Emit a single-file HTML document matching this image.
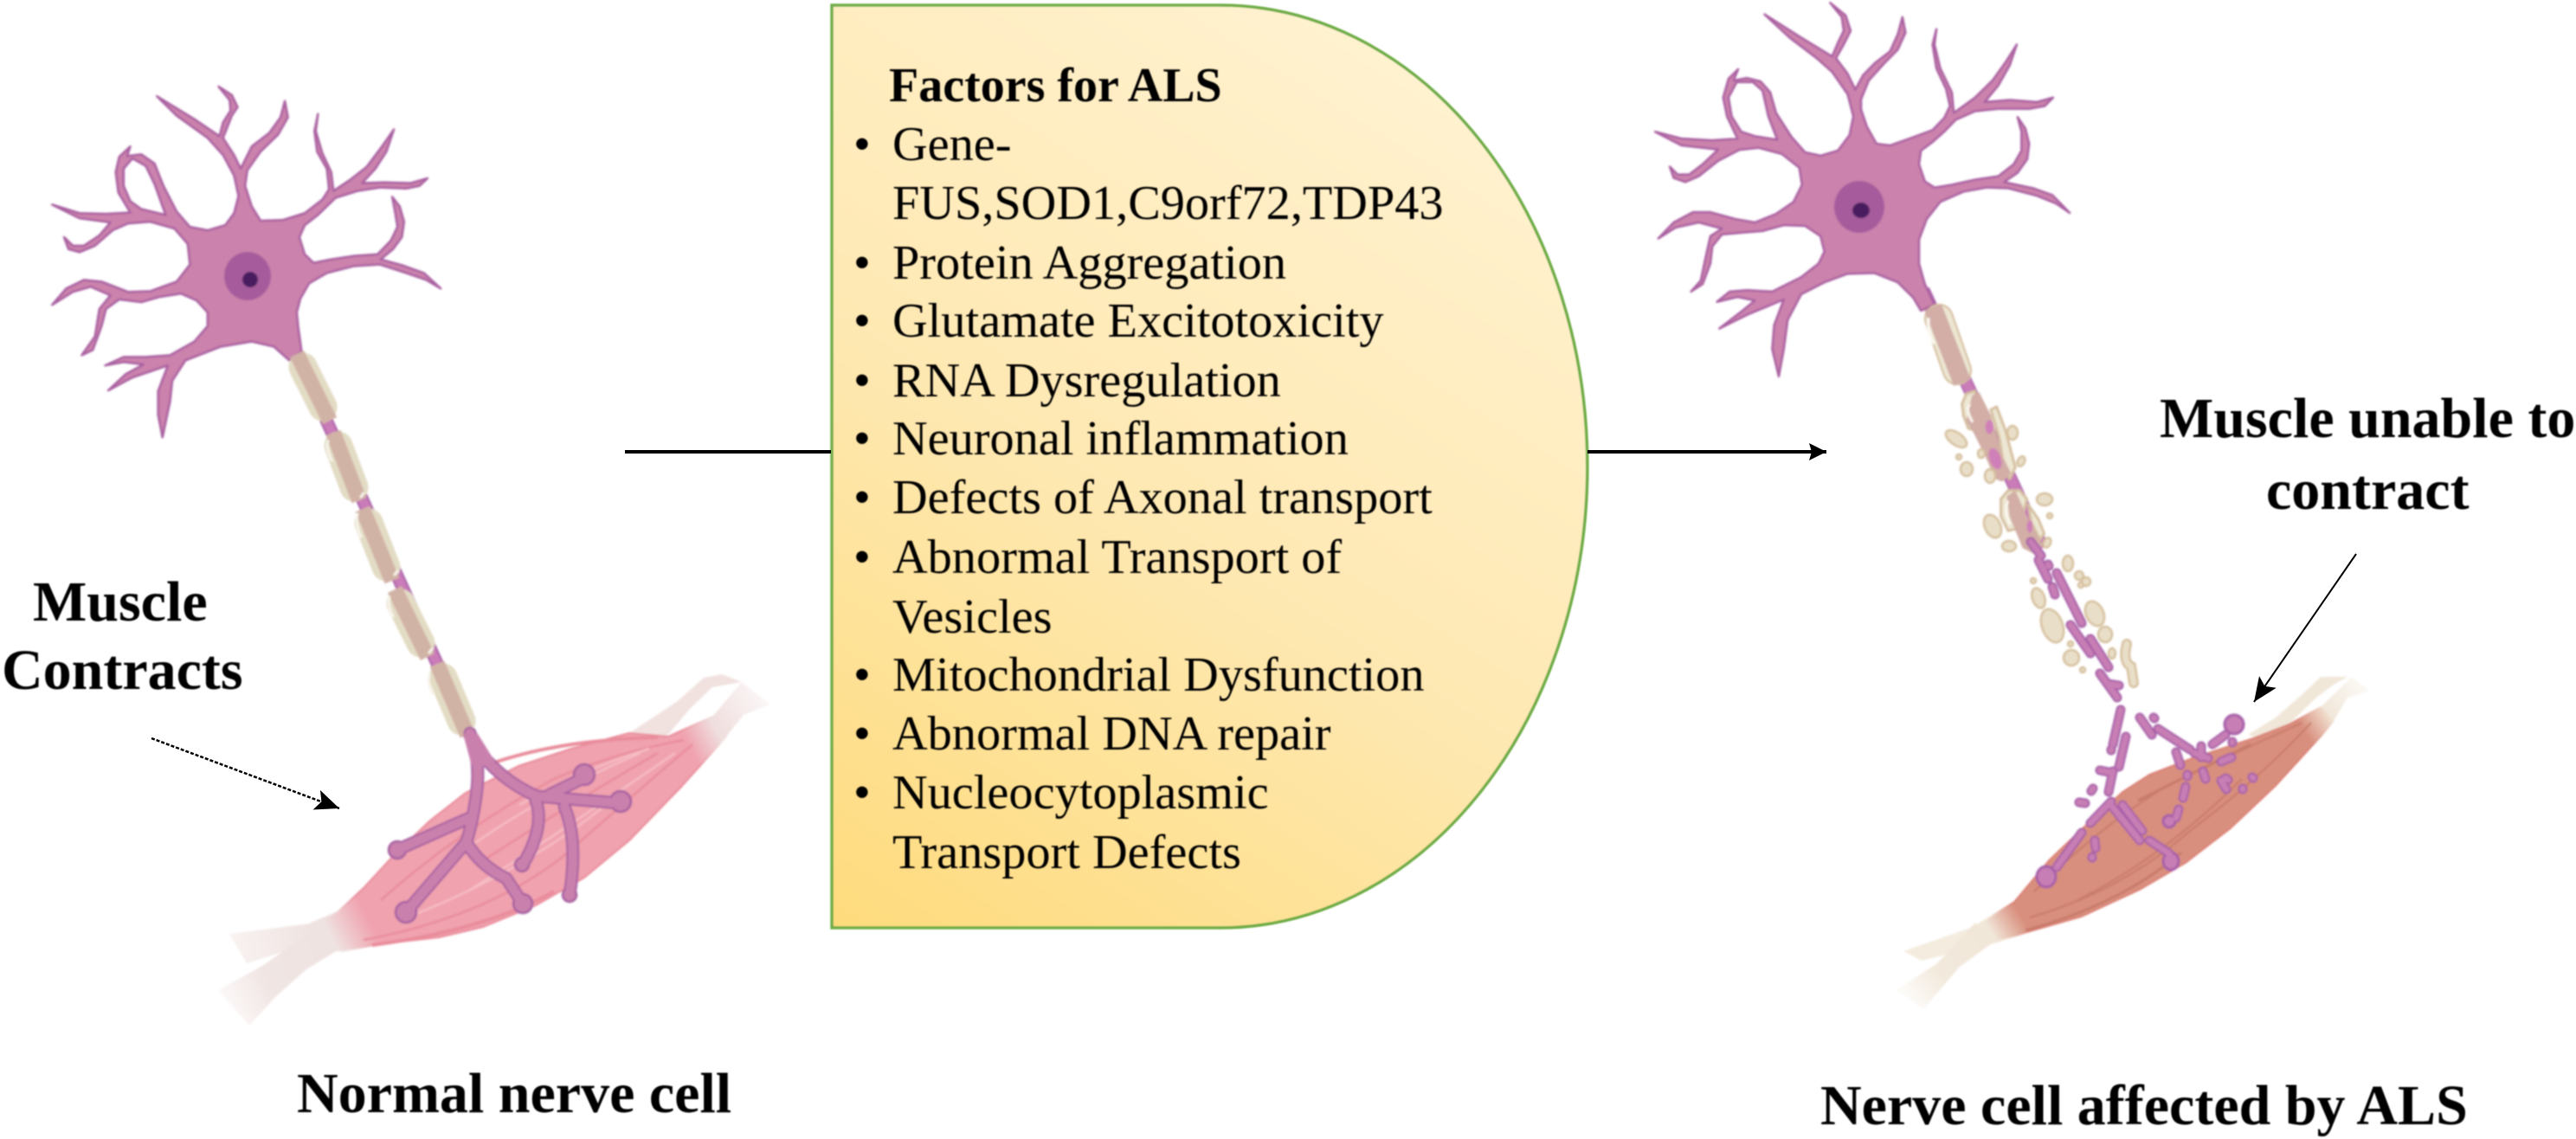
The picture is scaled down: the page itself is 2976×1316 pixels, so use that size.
<!DOCTYPE html>
<html><head><meta charset="utf-8"><style>
html,body{margin:0;padding:0;background:#fff;width:2976px;height:1316px;overflow:hidden}
svg{display:block}
text{font-family:"Liberation Serif",serif;fill:#000}
.b{font-weight:bold;font-size:66px}
.t{font-size:56.3px}
</style></head><body>
<svg width="2976" height="1316" viewBox="0 0 2976 1316" xmlns="http://www.w3.org/2000/svg">
<defs>
<filter id="soft" filterUnits="userSpaceOnUse" x="0" y="0" width="2976" height="1316"><feGaussianBlur stdDeviation="1.1"/></filter>
<filter id="softT" filterUnits="userSpaceOnUse" x="0" y="0" width="2976" height="1316"><feGaussianBlur stdDeviation="0.7"/></filter>
<linearGradient id="box" gradientUnits="userSpaceOnUse" x1="961" y1="1072" x2="1600" y2="60"><stop offset="0" stop-color="#fedb7c"/><stop offset=".5" stop-color="#fee8b2"/><stop offset="1" stop-color="#fff2cf"/></linearGradient>
<linearGradient id="mL" gradientUnits="userSpaceOnUse" x1="359" y1="1085" x2="839" y2="840"><stop offset="0" stop-color="#efe3e1"/><stop offset=".04" stop-color="#efe3e1"/><stop offset=".13" stop-color="#f0a2af"/><stop offset=".91" stop-color="#f0a2af"/><stop offset=".98" stop-color="#efe0df"/></linearGradient>
<linearGradient id="mLs" gradientUnits="userSpaceOnUse" x1="359" y1="1085" x2="839" y2="840"><stop offset="0" stop-color="#efe3e1"/><stop offset=".06" stop-color="#efe3e1"/><stop offset=".13" stop-color="#e98a99"/><stop offset=".91" stop-color="#e98a99"/><stop offset=".98" stop-color="#efe0df"/></linearGradient>
<linearGradient id="mR" gradientUnits="userSpaceOnUse" x1="2282" y1="1085" x2="2696" y2="825"><stop offset="0" stop-color="#f1e7d9"/><stop offset=".04" stop-color="#f1e7d9"/><stop offset=".12" stop-color="#d98f7e"/><stop offset=".92" stop-color="#d98f7e"/><stop offset=".99" stop-color="#f1e2d2"/></linearGradient>
<linearGradient id="mRs" gradientUnits="userSpaceOnUse" x1="2282" y1="1085" x2="2696" y2="825"><stop offset="0" stop-color="#f1e7d9"/><stop offset=".06" stop-color="#f1e7d9"/><stop offset=".12" stop-color="#d9766b"/><stop offset=".92" stop-color="#d9766b"/><stop offset=".99" stop-color="#f1e2d2"/></linearGradient>
<linearGradient id="tLa" gradientUnits="userSpaceOnUse" x1="380" y1="1110" x2="260" y2="1170"><stop offset="0" stop-color="#efe3e1"/><stop offset=".55" stop-color="#f0e5e3"/><stop offset="1" stop-color="#fdfafa"/></linearGradient>
<linearGradient id="tLb" gradientUnits="userSpaceOnUse" x1="360" y1="1085" x2="265" y2="1095"><stop offset="0" stop-color="#efe3e1"/><stop offset="1" stop-color="#f9f3f2"/></linearGradient>
<linearGradient id="tLc" gradientUnits="userSpaceOnUse" x1="830" y1="840" x2="890" y2="805"><stop offset="0" stop-color="#f1dfdf"/><stop offset="1" stop-color="#fcf9f9"/></linearGradient>
<linearGradient id="tRa" gradientUnits="userSpaceOnUse" x1="2290" y1="1090" x2="2205" y2="1155"><stop offset="0" stop-color="#f1e7d9"/><stop offset=".55" stop-color="#f2e9dc"/><stop offset="1" stop-color="#fdfbf8"/></linearGradient>
<linearGradient id="tRb" gradientUnits="userSpaceOnUse" x1="2690" y1="825" x2="2738" y2="790"><stop offset="0" stop-color="#f1e7d9"/><stop offset="1" stop-color="#fdfbf8"/></linearGradient>
<marker id="ah" markerUnits="userSpaceOnUse" markerWidth="22" markerHeight="24" refX="20" refY="12" orient="auto"><path d="M0,2 L20,12 L0,22 L3,12 Z" fill="#000"/></marker>
<marker id="ah2" markerUnits="userSpaceOnUse" markerWidth="30" markerHeight="26" refX="28" refY="13" orient="auto"><path d="M0,1 L28,13 L0,25 L6,13 Z" fill="#000"/></marker>
</defs>

<g filter="url(#soft)">
<!-- LEFT MUSCLE -->
<polygon fill="#f1e2e0" points="727,847 783,810 813,783 834,779 857,788 823,794 798,818 770,851"/>
<polygon fill="url(#tLc)" points="823,828 857,788 890,814 859,826 839,851"/>
<polygon fill="url(#tLb)" points="359,1067 265,1079 285,1113 323,1101 395,1099"/>
<polygon fill="url(#tLa)" points="395,1095 354,1120 318,1152 288,1185 252,1144 303,1116 354,1080"/>
<polygon fill="url(#mL)" stroke="url(#mLs)" stroke-width="2" stroke-linejoin="round" points="395,1099 436,1091 507,1083 558,1071 619,1046 675,1014 727,971 788,908 839,851 823,828 772,851 727,847 660,865 599,885 538,916 497,948 456,987 420,1026 390,1054 359,1067"/>
<g fill="none" stroke="#e98c9b" stroke-width="2.5">
<path d="M420,1086 Q560,1060 650,990 Q730,920 800,860"/>
<path d="M440,1040 Q530,960 640,900 Q710,870 790,855"/>
<path d="M560,885 Q640,855 760,852" stroke-width="4"/>
<path d="M430,1092 Q560,1075 640,1030" stroke-width="4"/>
<path d="M550,1000 Q640,940 760,870"/>
</g>
<g fill="none" stroke="#f6bcc4" stroke-width="2.5">
<path d="M500,1010 Q600,930 740,870"/>
<path d="M540,1030 Q650,960 780,870"/>
<path d="M470,1060 Q600,1010 700,930"/>
<path d="M600,930 Q670,890 750,865"/>
</g>

<!-- LEFT NEURON -->
<path d="M338,400 L543,850" stroke="#a85fa8" stroke-width="15" fill="none"/>
<path d="M338,400 L543,850" stroke="#c97cb8" stroke-width="11" fill="none"/>
<g stroke="#e3dcc4" stroke-width="33" stroke-linecap="round" fill="none">
<path d="M350,424 L373,470"/><path d="M391,515 L409,563"/><path d="M426,604 L446,655"/><path d="M463,697 L486,743"/><path d="M512,783 L533,833"/>
</g>
<g stroke="#d1b3a5" stroke-width="18" stroke-linecap="butt" fill="none">
<path d="M343,409 L381,486"/><path d="M385,500 L415,578"/><path d="M419,588 L453,671"/><path d="M456,681 L494,759"/><path d="M505,767 L540,849"/>
</g>
<g stroke="#f8f5ec" stroke-width="3" stroke-linecap="round" fill="none">
<path d="M338,424 Q335,430 342,444"/><path d="M379,510 Q376,516 383,532"/><path d="M413,594 Q410,604 417,620"/><path d="M450,690 Q447,698 454,712"/><path d="M496,780 Q493,788 500,802"/>
<path d="M383,482 L386,478"/><path d="M417,574 L420,570"/><path d="M456,664 L459,660"/><path d="M496,754 L499,750"/><path d="M543,845 L546,841"/>
</g>
<g fill="#cb82ac" stroke="#a85fa0" stroke-width="2.5" stroke-linejoin="round">
<path fill-rule="evenodd" vector-effect="non-scaling-stroke" transform="translate(0,100) scale(.5102,.3954)" d="M683,775 L675,700 672,660 680,620 700,575 740,545 800,525 860,520 920,545 965,565 998,590 960,545 910,522 862,505 890,475 910,440 915,395 905,350 888,322 895,370 900,410 885,450 855,490 800,495 750,505 710,515 690,490 678,440 690,405 720,375 760,325 810,305 860,295 920,298 950,290 968,268 930,282 870,280 820,282 850,240 875,190 892,125 865,175 830,235 790,275 755,305 750,250 730,195 715,130 720,80 712,130 718,190 740,240 745,300 730,330 690,370 640,390 590,392 570,350 555,290 560,245 590,190 630,140 652,90 645,42 635,90 610,135 570,175 545,240 530,200 505,150 525,85 538,60 525,25 495,0 520,40 522,70 505,105 497,145 440,95 355,28 400,85 470,150 505,200 530,260 540,320 530,370 510,405 470,420 430,410 400,365 370,290 350,225 320,198 288,203 295,175 270,205 262,250 268,310 295,368 240,372 180,370 118,345 180,385 250,397 225,435 190,465 165,465 145,440 155,475 180,484 215,465 255,420 290,400 340,395 395,415 425,460 430,520 400,570 340,598 290,600 230,570 190,565 150,590 118,638 165,600 205,585 250,610 225,650 215,730 185,785 210,770 230,700 240,650 270,622 320,630 360,615 410,605 445,625 470,660 470,700 440,745 385,785 330,790 280,790 238,815 280,805 325,812 285,840 245,888 300,850 380,815 358,890 358,960 368,1025 385,920 390,860 420,800 500,760 570,745 620,760 655,800 Z M300,210 L330,232 350,285 375,375 320,358 295,335 280,290 280,240 Z"/>
</g>
<ellipse cx="286" cy="319" rx="27" ry="28" fill="#a65c9c"/>
<ellipse cx="289" cy="323" rx="9" ry="9" fill="#4a1f5e"/>
<!-- re-cover top of first capsule -->
<path d="M350,424 L373,470" stroke="#e3dcc4" stroke-width="33" stroke-linecap="round" fill="none"/>
<path d="M343,409 L381,486" stroke="#d1b3a5" stroke-width="18" fill="none"/>

<!-- LEFT TERMINAL -->
<defs><g id="termL" fill="none" stroke-linecap="round" stroke-linejoin="round">
<path d="M543,847 Q556,880 550,920 Q545,955 538,975"/>
<path d="M537,975 L469,1054"/>
<path d="M540,975 Q555,1000 585,1015 L604,1044"/>
<path d="M540,946 L461,981"/>
<path d="M546,858 Q575,900 620,920 L716,928"/>
<path d="M635,918 L672,900"/>
<path d="M619,925 Q630,955 604,999"/>
<path d="M652,932 Q668,970 658,1034"/>
</g></defs>
<use href="#termL" stroke="#a65fa0" stroke-width="15"/>
<g fill="#c980ad" stroke="#a65fa0" stroke-width="2.5">
<circle cx="469" cy="1054" r="12"/><circle cx="604" cy="1044" r="11"/><circle cx="459" cy="982" r="10"/><circle cx="675" cy="895" r="12"/><circle cx="717" cy="926" r="12"/><circle cx="603" cy="999" r="8"/><circle cx="658" cy="1034" r="8"/>
</g>
<use href="#termL" stroke="#c980ad" stroke-width="11"/>
<polygon fill="#c980ad" points="535,848 552,848 575,885 545,885"/>

<!-- RIGHT MUSCLE -->
<polygon fill="#f1e7d9" points="2597,849 2629,829 2660,802 2681,782 2712,782 2696,791 2676,806 2644,837 2608,853"/>
<polygon fill="url(#tRb)" points="2681,817 2717,782 2738,798 2712,806 2696,833"/>
<polygon fill="#f4ecdf" points="2282,1070 2199,1099 2220,1110 2301,1090"/>
<polygon fill="url(#tRa)" points="2301,1090 2264,1117 2222,1166 2191,1144 2238,1113 2282,1066"/>
<polygon fill="url(#mR)" stroke="url(#mRs)" stroke-width="1.5" stroke-linejoin="round" points="2301,1090 2342,1077 2405,1059 2472,1028 2525,997 2577,957 2629,908 2681,851 2696,833 2681,817 2644,837 2603,853 2535,875 2483,895 2452,915 2410,953 2368,993 2327,1042 2282,1070"/>
<g fill="none" stroke="#c87a69" stroke-width="2">
<path d="M2345,1060 Q2450,1030 2530,960 Q2610,900 2670,835"/>
<path d="M2350,1030 Q2420,960 2500,910 Q2570,875 2660,835"/>
<path d="M2400,1040 Q2500,990 2590,900"/>
<path d="M2470,925 Q2530,895 2600,860" stroke-width="3"/>
<path d="M2340,1075 Q2450,1045 2520,985" stroke-width="3"/>
</g>

<!-- RIGHT AXON (proximal) -->
<path d="M2222,335 L2360,633" stroke="#a85fa8" stroke-width="15" fill="none"/>
<path d="M2222,335 L2360,633" stroke="#c97cb8" stroke-width="12" fill="none"/>
<path d="M2240,368 L2261,428" stroke="#d6bfa0" stroke-width="34" stroke-linecap="round" fill="none"/>
<path d="M2240,368 L2261,428" stroke="#ece6d2" stroke-width="30" stroke-linecap="round" fill="none"/>
<path d="M2233,355 L2267,442" stroke="#d2aea6" stroke-width="21" fill="none"/>
<path d="M2228,369 Q2226,380 2234,396" stroke="#fbf8f0" stroke-width="3.5" fill="none" stroke-linecap="round"/>
<g transform="translate(2200,340) scale(.3333)" stroke-linejoin="round">
<g fill="#ece6d2" stroke="#d6bfa0" stroke-width="3" vector-effect="non-scaling-stroke">
<polygon vector-effect="non-scaling-stroke" points="200,380 215,345 245,335 255,400 240,470 222,465 205,420"/>
<polygon vector-effect="non-scaling-stroke" points="300,400 320,390 350,470 385,600 365,640 345,600 330,500"/>
<polygon vector-effect="non-scaling-stroke" points="335,710 360,680 400,680 425,710 400,810 360,820 335,770"/>
<polygon vector-effect="non-scaling-stroke" points="430,730 465,780 485,830 470,850 440,790"/>
</g>
<polygon fill="#d2aea6" points="235,350 260,340 300,420 340,560 370,620 340,650 315,640 280,560 240,480 215,440"/>
<polygon fill="#d2aea6" points="355,700 385,680 420,760 480,870 450,900 410,880 365,770"/>
<ellipse cx="295" cy="460" rx="14" ry="24" fill="#cf80b8"/>
<ellipse cx="315" cy="570" rx="20" ry="38" transform="rotate(-20 315 570)" fill="#cf80b8"/>
<ellipse cx="435" cy="805" rx="10" ry="22" fill="#cf80b8"/>
<path d="M225,385 Q212,400 235,440" fill="none" stroke="#fbf8f0" stroke-width="9" stroke-linecap="round"/>
<path d="M358,720 Q345,750 365,795" fill="none" stroke="#fbf8f0" stroke-width="9" stroke-linecap="round"/>
</g>
<!-- RIGHT NEURON -->
<g fill="#cb82ac" stroke="#a85fa0" stroke-width="2.5" stroke-linejoin="round">
<path fill-rule="evenodd" vector-effect="non-scaling-stroke" transform="translate(1880,0) scale(.4464,.3954)" d="M795,890 L770,830 755,770 755,700 775,640 810,590 870,560 930,548 985,550 1060,572 1110,595 1145,622 1100,570 1050,550 975,532 1010,505 1035,465 1040,420 1030,375 1010,342 1020,385 1020,440 1000,480 960,515 900,525 840,540 795,548 770,530 755,480 760,440 790,415 820,385 850,350 900,325 960,318 1040,318 1080,310 1102,285 1060,298 990,292 925,298 960,250 990,190 1008,130 980,180 945,235 900,285 845,330 840,270 810,200 795,130 800,85 790,130 800,200 825,260 835,310 820,345 790,380 730,405 680,425 645,420 620,370 605,320 605,290 625,235 665,185 700,145 720,95 712,50 700,100 680,150 640,185 610,220 590,262 570,215 540,170 560,130 578,90 565,45 525,8 555,50 560,90 545,125 530,165 450,110 355,42 420,110 490,170 530,210 570,275 585,340 575,395 545,440 500,455 460,445 425,400 385,330 370,270 345,238 310,228 275,235 287,202 262,230 248,285 258,340 285,405 220,410 140,405 72,385 140,425 235,437 195,480 160,510 130,510 110,487 120,520 150,532 185,515 235,470 290,438 340,432 400,450 445,490 452,540 430,590 385,625 330,650 280,640 215,620 170,620 120,650 80,697 125,665 185,650 245,668 215,690 205,740 190,820 165,852 195,830 215,770 220,720 245,685 295,680 350,675 405,658 460,660 500,690 510,735 495,770 450,810 375,852 310,848 265,852 232,882 285,868 330,878 290,915 238,960 310,920 405,875 380,950 375,1020 392,1100 405,1020 415,935 450,860 510,825 570,800 640,798 700,825 740,870 760,908 Z M283,240 L325,240 350,265 365,340 388,408 330,398 295,385 270,340 262,285 Z"/>
</g>
<ellipse cx="2148" cy="239" rx="29" ry="30" fill="#a65c9c"/>
<ellipse cx="2150" cy="243" rx="10" ry="9" fill="#4a1f5e"/>
<path d="M2240,368 L2261,428" stroke="#d6bfa0" stroke-width="34" stroke-linecap="round" fill="none"/>
<path d="M2240,368 L2261,428" stroke="#ece6d2" stroke-width="30" stroke-linecap="round" fill="none"/>
<path d="M2233,355 L2267,442" stroke="#d2aea6" stroke-width="21" fill="none"/>
<path d="M2228,369 Q2226,380 2234,396" stroke="#fbf8f0" stroke-width="3.5" fill="none" stroke-linecap="round"/>

<!-- debris -->
<g fill="#e9dfc8" stroke="#d6c09e" stroke-width="2.5">
<ellipse cx="2260" cy="507" rx="14" ry="7" transform="rotate(35 2260 507)"/>
<circle cx="2263" cy="528" r="3"/><ellipse cx="2272" cy="542" rx="7" ry="8"/>
<ellipse cx="2325" cy="500" rx="6" ry="8"/><ellipse cx="2335" cy="533" rx="4" ry="6" transform="rotate(25 2335 533)"/>
<ellipse cx="2289" cy="524" rx="4" ry="5"/><ellipse cx="2299" cy="550" rx="6" ry="8"/>
<ellipse cx="2362" cy="577" rx="9" ry="7"/><circle cx="2368" cy="596" r="3"/>
<ellipse cx="2302" cy="608" rx="9" ry="14" transform="rotate(-25 2302 608)"/>
<ellipse cx="2321" cy="631" rx="8" ry="6"/><ellipse cx="2365" cy="627" rx="4" ry="6" transform="rotate(25 2365 627)"/>
<ellipse cx="2389" cy="651" rx="6" ry="9"/>
<circle cx="2402" cy="665" r="5"/><circle cx="2410" cy="672" r="5"/><circle cx="2404" cy="676" r="3"/>
<circle cx="2349" cy="671" r="3"/>
<ellipse cx="2355" cy="691" rx="7" ry="12" transform="rotate(-20 2355 691)"/>
<ellipse cx="2420" cy="709" rx="10" ry="15" transform="rotate(-25 2420 709)"/>
<ellipse cx="2371" cy="723" rx="12" ry="20" transform="rotate(-20 2371 723)"/>
<ellipse cx="2432" cy="733" rx="8" ry="9"/><circle cx="2393" cy="760" r="9"/>
<ellipse cx="2440" cy="755" rx="4" ry="6"/><circle cx="2406" cy="774" r="3"/><circle cx="2392" cy="744" r="3"/>
</g>
<path d="M2457,744 Q2452,765 2462,770 L2465,789" fill="none" stroke="#d6c09e" stroke-width="12" stroke-linecap="round"/>
<path d="M2457,744 Q2452,765 2462,770 L2465,789" fill="none" stroke="#e9dfc8" stroke-width="7" stroke-linecap="round"/>

<!-- RIGHT TERMINAL fragments -->
<defs><g id="fr" fill="none" stroke-linecap="round" stroke-linejoin="round">
<path d="M2346,626 L2358,642"/><path d="M2355,647 L2366,669"/><path d="M2366,652 L2367,654"/><path d="M2371,678 L2374,687"/>
<path d="M2376,662 L2405,720"/><path d="M2392,722 L2415,755"/><path d="M2415,738 L2436,771"/><path d="M2426,778 L2446,806"/><path d="M2436,790 L2448,792"/>
<path d="M2450,820 L2441,860"/><path d="M2439,866 L2439,867"/><path d="M2456,851 L2448,886"/><path d="M2426,890 L2436,892"/><path d="M2441,891 L2436,915"/>
<path d="M2418,911 L2416,914"/><path d="M2402,927 L2409,928"/><path d="M2439,926 L2415,951"/><path d="M2405,962 L2376,1002"/>
<path d="M2420,971 L2421,980"/><path d="M2417,990 L2417,991"/><path d="M2441,933 L2472,971"/><path d="M2452,930 L2475,960"/><path d="M2483,971 L2506,986"/>
<path d="M2472,829 L2486,849"/><path d="M2488,829 L2489,830"/><path d="M2493,842 L2530,866"/><path d="M2514,869 L2519,884"/>
<path d="M2543,862 L2543,875"/><path d="M2535,870 L2551,876"/><path d="M2556,860 L2571,849"/><path d="M2579,857 L2579,858"/><path d="M2566,880 L2578,875"/>
<path d="M2545,891 L2548,900"/><path d="M2566,902 L2572,912"/><path d="M2571,899 L2574,901"/><path d="M2602,898 L2603,899"/><path d="M2591,911 L2591,912"/>
<path d="M2527,895 L2527,897"/><path d="M2525,909 L2522,922"/><path d="M2517,935 L2514,945"/>
</g></defs>
<use href="#fr" stroke="#a65fa8" stroke-width="11"/>
<g fill="#c77eb4" stroke="#a65fa8" stroke-width="3">
<ellipse cx="2364" cy="1013" rx="11" ry="12"/><ellipse cx="2508" cy="995" rx="9" ry="10"/><circle cx="2581" cy="837" r="11"/><circle cx="2506" cy="949" r="7"/>
</g>
<use href="#fr" stroke="#c77eb4" stroke-width="7"/>
</g>

<!-- BOX -->
<path d="M961,6 H1410 A424,533 0 0 1 1410,1072 H961 Z" fill="url(#box)" stroke="#70ad47" stroke-width="3.5" filter="url(#softT)"/>

<!-- ARROWS -->
<path d="M722,522 H960" stroke="#000" stroke-width="4" fill="none"/>
<path d="M1834,522 H2110" stroke="#000" stroke-width="4" fill="none" marker-end="url(#ah)"/>
<path d="M175,853 L392,934" stroke="#000" stroke-width="2.5" stroke-dasharray="4 2" fill="none" marker-end="url(#ah2)"/>
<path d="M2722,640 L2604,811" stroke="#000" stroke-width="2" fill="none" marker-end="url(#ah2)"/>

<!-- TEXT -->
<g filter="url(#softT)">
<text class="b" style="font-size:56px" x="1027" y="117">Factors for ALS</text>
<text class="t" x="986" y="185">•</text><text class="t" x="1031" y="185">Gene-</text>
<text class="t" x="1031" y="253">FUS,SOD1,C9orf72,TDP43</text>
<text class="t" x="986" y="322">•</text><text class="t" x="1031" y="322">Protein Aggregation</text>
<text class="t" x="986" y="389">•</text><text class="t" x="1031" y="389">Glutamate Excitotoxicity</text>
<text class="t" x="986" y="458">•</text><text class="t" x="1031" y="458">RNA Dysregulation</text>
<text class="t" x="986" y="525">•</text><text class="t" x="1031" y="525">Neuronal  inflammation</text>
<text class="t" x="986" y="593">•</text><text class="t" x="1031" y="593">Defects of Axonal transport</text>
<text class="t" x="986" y="662">•</text><text class="t" x="1031" y="662">Abnormal Transport of</text>
<text class="t" x="1031" y="731">Vesicles</text>
<text class="t" x="986" y="798">•</text><text class="t" x="1031" y="798">Mitochondrial Dysfunction</text>
<text class="t" x="986" y="866">•</text><text class="t" x="1031" y="866">Abnormal DNA repair</text>
<text class="t" x="986" y="934">•</text><text class="t" x="1031" y="934">Nucleocytoplasmic</text>
<text class="t" x="1031" y="1003">Transport Defects</text>
<text class="b" x="38" y="717">Muscle</text>
<text class="b" x="2" y="796">Contracts</text>
<text class="b" x="343" y="1285">Normal nerve cell</text>
<text class="b" x="2103" y="1299">Nerve cell affected by ALS</text>
<text class="b" x="2495" y="505">Muscle unable to</text>
<text class="b" x="2618" y="588">contract</text>
</g>
</svg>
</body></html>
